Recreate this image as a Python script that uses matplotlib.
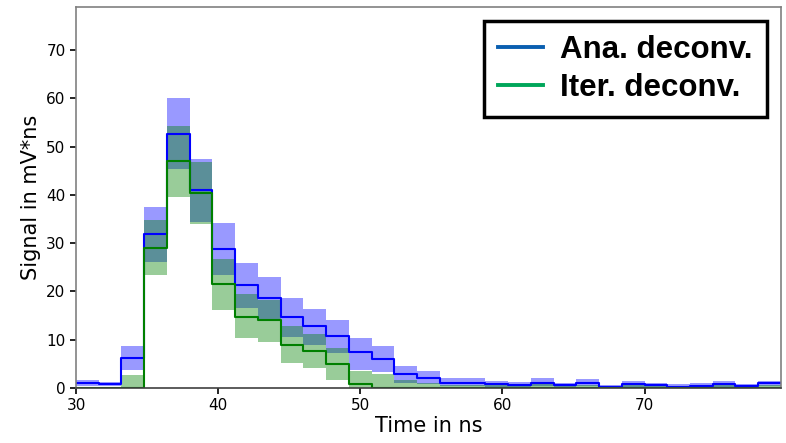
import numpy as np
import matplotlib
matplotlib.use("Agg")
import matplotlib.pyplot as plt
from matplotlib.lines import Line2D

# ---- data ----
bin_start = 30.0
bin_width = 1.6
n_bins = 31
edges = bin_start + bin_width * np.arange(n_bins + 1)

ana_val = [1.0, 0.8, 6.3, 31.9, 52.7, 41.1, 28.9, 21.3, 18.6, 14.8, 12.8, 10.8,
           7.5, 6.1, 3.0, 2.0, 1.1, 1.1, 0.8, 0.6, 1.1, 0.6, 1.0, 0.3, 0.8, 0.6,
           0.3, 0.5, 0.8, 0.4, 1.0]
ana_low = [0.5, 0.4, 3.7, 26.2, 45.3, 34.4, 23.4, 16.5, 14.1, 10.6, 8.9, 7.2,
           3.7, 3.4, 1.1, 0.8, 0.4, 0.4, 0.3, 0.2, 0.5, 0.2, 0.4, 0.1, 0.3, 0.2,
           0.1, 0.2, 0.3, 0.1, 0.4]
ana_up = [1.6, 1.3, 8.7, 37.5, 60.0, 47.4, 34.2, 26.0, 22.9, 18.6, 16.3, 14.1,
          10.4, 8.7, 4.6, 3.5, 2.0, 2.0, 1.4, 1.2, 2.0, 1.1, 1.8, 0.6, 1.4, 1.1,
          0.8, 1.1, 1.4, 0.8, 1.5]

iter_val = [0.0, 0.0, 0.0, 29.0, 47.0, 40.4, 21.5, 14.8, 14.1, 8.9, 7.7, 5.0,
            0.8, 0.1, 0.1, 0.1, 0.1, 0.1, 0.1, 0.1, 0.1, 0.1, 0.1, 0.1, 0.1, 0.1,
            0.1, 0.1, 0.1, 0.1, 0.1]
iter_low = [0.0, 0.0, 0.0, 23.4, 39.6, 34.0, 16.1, 10.3, 9.6, 5.1, 4.1, 1.7,
            0.0, 0.0, 0.0, 0.0, 0.0, 0.0, 0.0, 0.0, 0.0, 0.0, 0.0, 0.0, 0.0, 0.0,
            0.0, 0.0, 0.0, 0.0, 0.0]
iter_up = [0.2, 0.2, 2.7, 34.8, 54.3, 46.9, 26.8, 19.4, 18.2, 12.8, 11.1, 8.4,
           3.6, 3.0, 1.7, 1.1, 0.6, 0.6, 0.6, 0.6, 0.8, 0.6, 0.6, 0.5, 0.6, 0.6,
           0.5, 0.6, 0.6, 0.5, 0.6]

legend_labels = ["Ana. deconv.", "Iter. deconv."]
x_ticks = [30, 40, 50, 60, 70]
y_ticks = [0, 10, 20, 30, 40, 50, 60, 70]


def ext(a):
    a = list(a)
    return np.array(a + [a[-1]])


fig = plt.figure(figsize=(7.86, 4.43), dpi=100)
ax = fig.add_axes([0.0967, 0.124, 0.8969, 0.860])

ax.fill_between(edges, ext(ana_low), ext(ana_up), step="post",
                color="blue", alpha=0.4, linewidth=0)
ax.fill_between(edges, ext(iter_low), ext(iter_up), step="post",
                color="green", alpha=0.4, linewidth=0)
ax.step(edges, ext(ana_val), where="post", color="blue", lw=1.5)
ax.step(edges, ext(iter_val), where="post", color="green", lw=1.5)

ax.set_xlim(edges[0], edges[-1])
ax.set_ylim(0, 78.9)
ax.set_xticks(x_ticks)
ax.set_yticks(y_ticks)
ax.tick_params(labelsize=11, width=1.2, length=4)
ax.set_xlabel("Time in ns", fontsize=15, labelpad=2)
ax.set_ylabel("Signal in mV*ns", fontsize=15, labelpad=4)
for s in ax.spines.values():
    s.set_color("#808080")
    s.set_linewidth(1.2)
ax.spines["bottom"].set_color("#404040")

handles = [Line2D([], [], color="#0a5fb0", lw=2.8),
           Line2D([], [], color="#00a65a", lw=2.8)]
leg = ax.legend(handles, legend_labels, loc="upper right",
                prop={"family": "Liberation Sans", "weight": "bold", "size": 22.5},
                fancybox=False, framealpha=1, edgecolor="black",
                borderaxespad=0.45, handlelength=1.45, handletextpad=0.55,
                labelspacing=0.25, borderpad=0.45)
leg.get_frame().set_linewidth(2.5)

fig.savefig("out.png", dpi=100)
